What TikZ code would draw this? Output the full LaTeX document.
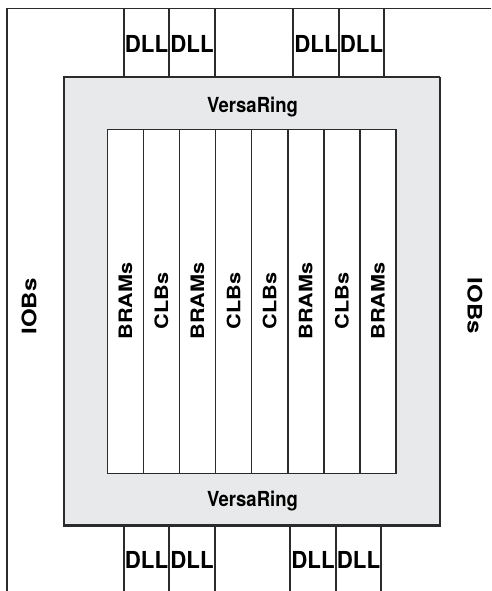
\documentclass[tikz,border=0pt]{standalone}
\usepackage{fontspec}
\setmainfont{TeX Gyre Heros}
\usepackage{graphicx}
\definecolor{ringgray}{HTML}{E8E9EA}
\definecolor{linec}{HTML}{2B2B2B}
\tikzset{
  lab/.style={inner sep=0pt, outer sep=0pt, font=\bfseries, text=black},
  frame/.style={draw=linec, line width=1.5pt},
}
\newcommand{\dll}{\fontsize{22.5}{24}\selectfont\scalebox{0.99}[1.04]{DLL}}
\newcommand{\vring}{\fontsize{18.5}{20}\selectfont\scalebox{1}[1.12]{VersaRing}}
\newcommand{\collab}[1]{\fontsize{18.5}{20}\selectfont\rotatebox{90}{\scalebox{1.17}[1]{#1}}}
\newcommand{\ioblab}[2]{\fontsize{20}{22}\selectfont\rotatebox{#1}{\scalebox{1.2}[1]{#2}}}
\begin{document}
\begin{tikzpicture}[x=1pt,y=-1pt]
\useasboundingbox (0,0) rectangle (491,591);
% outer frame (left and top)
\coordinate (fbl) at (7,591);
\coordinate (ftl) at (7,8.5);
\coordinate (ftr) at (491,8.5);
\draw[frame] (fbl) -- (ftl) -- (ftr);
% VersaRing
\path[fill=ringgray] (64,77) rectangle (440,525);
\draw[frame] (64,525) -- (64,77) -- (440,77);
\draw[draw=linec, line width=2.4pt] (440,77) -- (440,525.5) -- (63.3,525.5);
\coordinate (ringtl) at (64,77);
% top DLL boxes
\foreach \a/\b/\n in {124/169/t1,169/215/t2,293/339/t3,339/384/t4}{
  \node[lab, minimum width={\b-\a}, minimum height=68.5, draw=linec, line width=1.5pt, fill=white, anchor=north west, outer sep=0pt] (\n box) at (\a,8.5) {};
}
\foreach \n in {t1,t2,t3,t4}{
  \node[lab] (\n) at ([yshift=-35pt]\n box.north) {\dll};
}
% bottom DLL boxes (open at the bottom)
\foreach \a/\b/\n in {124/169/b1,169/215/b2,290/336/b3,336/381/b4}{
  \coordinate (\n l) at (\a,525.5);
  \coordinate (\n r) at (\b,525.5);
  \coordinate (\n ll) at (\a,591);
  \coordinate (\n rr) at (\b,591);
  \draw[frame] (\n ll) -- (\n l);
  \draw[frame] (\n rr) -- (\n r);
  \node[lab] (\n) at ({(\a+\b)/2},560) {\dll};
}
% VersaRing labels
\node[lab, anchor=base] (vrtop) at (252.5,112.7) {\vring};
\node[lab, anchor=base] (vrbot) at (252.5,506.7) {\vring};
% columns
\foreach \i/\t in {0/BRAMs,1/CLBs,2/BRAMs,3/CLBs,4/CLBs,5/BRAMs,6/CLBs,7/BRAMs}{
  \pgfmathsetmacro{\xa}{107.3+\i*36.09}
  \node[draw=linec, line width=1.5pt, fill=white, minimum width=36.09pt, minimum height=344pt, inner sep=0pt, outer sep=0pt, anchor=north west] (col\i) at (\xa,129.3) {};
  \node[lab] (lab\i) at (col\i.center |- 0,301) {\collab{\t}};
}
% IOBs
\node[lab] (iobl) at (29,306.5) {\ioblab{90}{IOBs}};
\node[lab] (iobr) at (475,306) {\ioblab{-90}{IOBs}};
\end{tikzpicture}
\end{document}
